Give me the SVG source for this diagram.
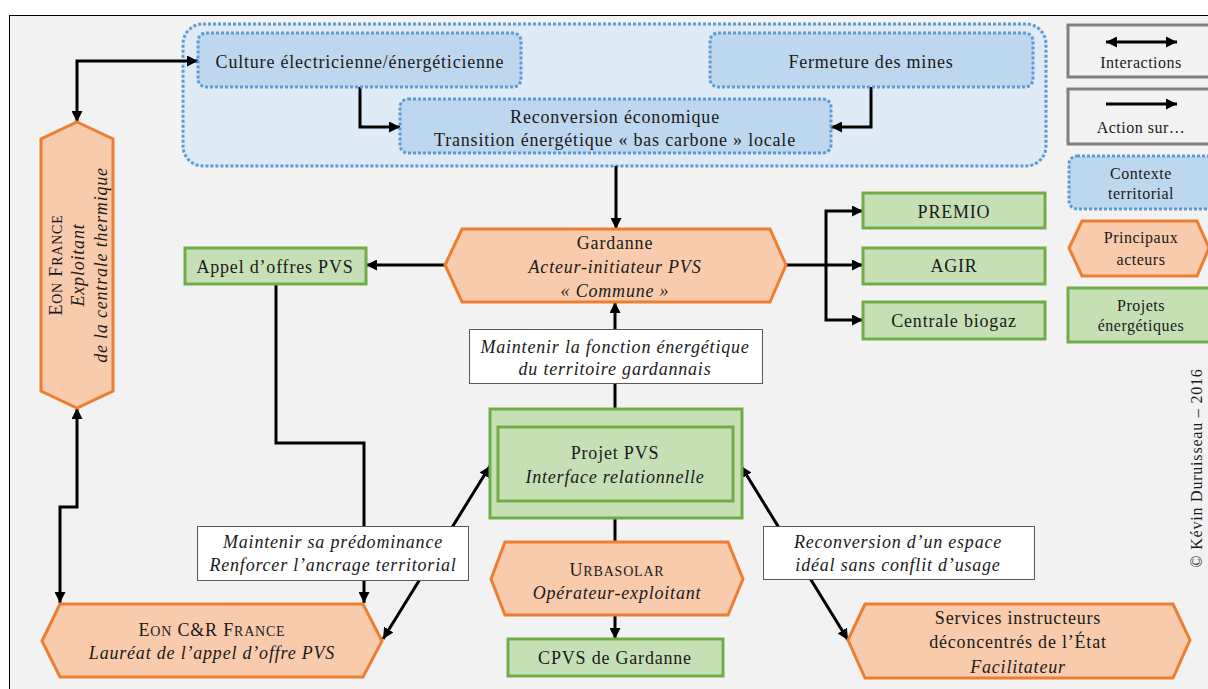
<svg xmlns="http://www.w3.org/2000/svg" width="1208" height="689" viewBox="0 0 1208 689" font-family="Liberation Serif, Tinos, Times New Roman, DejaVu Serif, serif">
<defs>
<style>
text{font-family:'Liberation Serif','Tinos','Times New Roman','DejaVu Serif',serif;font-size:18px;fill:#1a1a1a;text-anchor:middle;letter-spacing:0.8px}
.it{font-style:italic}
.sc{font-size:14px}
.lg{font-size:16px;letter-spacing:0.5px}
.blue{fill:#bdd7ee;stroke:#5b9bd5;stroke-width:3;stroke-dasharray:3 2}
.ctx{fill:#deebf7;stroke:#5b9bd5;stroke-width:3;stroke-dasharray:3 2}
.org{fill:#f8cbad;stroke:#ed7d31;stroke-width:3;stroke-linejoin:miter}
.grn{fill:#c5e0b4;stroke:#70ad47;stroke-width:3}
.lab{fill:#ffffff;stroke:#595959;stroke-width:1}
.leg{fill:#f2f2f2;stroke:#7f7f7f;stroke-width:3}
.c{fill:none;stroke:#000;stroke-width:3}
.a{marker-end:url(#ah)}
.aa{marker-start:url(#ah);marker-end:url(#ah)}
</style>
<marker id="ah" viewBox="0 0 10 10" refX="10" refY="5" markerWidth="11" markerHeight="11" markerUnits="userSpaceOnUse" orient="auto-start-reverse">
<path d="M0,0 L10,5 L0,10 z" fill="#000"/>
</marker>
</defs>
<rect x="0" y="0" width="1208" height="689" fill="#ffffff"/>
<rect x="9.5" y="15.5" width="1300" height="700" fill="#f2f2f2" stroke="#000" stroke-width="1"/>

<g id="contexte">
<rect class="ctx" x="183" y="24" width="863" height="142" rx="20"/>
</g>

<g id="connectors">
<path class="c aa" d="M198,61 H77 V122"/>
<path class="c a" d="M360,87 V127 H400"/>
<path class="c a" d="M871,87 V127 H831"/>
<path class="c a" d="M616,166 V229"/>
<path class="c a" d="M445,265 H366"/>
<path class="c a" d="M786,265 H863"/>
<path class="c a" d="M826,265 V211 H863"/>
<path class="c a" d="M826,265 V320 H863"/>
<path class="c a" d="M615,409 V302"/>
<path class="c aa" d="M77,408 V507 H60 V603"/>
<path class="c a" d="M276,284 V443 H364 V603"/>
<path class="c aa" d="M383,639 L490,466"/>
<path class="c aa" d="M741,466 L848,640"/>
<path class="c" d="M615,518 V542"/>
<path class="c a" d="M615,615 V639"/>
</g>

<g id="culture">
<rect class="blue" x="198" y="33" width="323" height="54" rx="8"/>
<text x="360" y="68">Culture électricienne/énergéticienne</text>
</g>
<g id="fermeture">
<rect class="blue" x="710" y="33" width="323" height="54" rx="8"/>
<text x="871" y="68">Fermeture des mines</text>
</g>
<g id="reconversion">
<rect class="blue" x="400" y="99" width="431" height="54" rx="8"/>
<text x="615" y="123">Reconversion économique</text>
<text x="615" y="146">Transition énergétique « bas carbone » locale</text>
</g>

<g id="eon-france">
<polygon class="org" points="77,122 113,139 113,391 77,408 41,391 41,139"/>
<text transform="rotate(-90 77 265)" x="77" y="250">E<tspan class="sc">ON</tspan> F<tspan class="sc">RANCE</tspan></text>
<text class="it" transform="rotate(-90 77 265)" x="77" y="272">Exploitant</text>
<text class="it" transform="rotate(-90 77 265)" x="77" y="295">de la centrale thermique</text>
</g>

<g id="gardanne">
<polygon class="org" points="445,265 462,229 770,229 786,265 770,302 462,302"/>
<text x="615" y="249">Gardanne</text>
<text class="it" x="615" y="273">Acteur-initiateur PVS</text>
<text class="it" x="615" y="297">« Commune »</text>
</g>

<g id="appel">
<rect class="grn" x="185" y="248" width="181" height="36"/>
<text x="275" y="273">Appel d’offres PVS</text>
</g>

<g id="premio">
<rect class="grn" x="863" y="193" width="182" height="35"/>
<text x="954" y="218">PREMIO</text>
</g>
<g id="agir">
<rect class="grn" x="863" y="248" width="182" height="36"/>
<text x="954" y="272">AGIR</text>
</g>
<g id="biogaz">
<rect class="grn" x="863" y="302" width="182" height="37"/>
<text x="954" y="327">Centrale biogaz</text>
</g>

<g id="label-fonction">
<rect class="lab" x="469.5" y="329.5" width="293" height="54"/>
<text class="it" x="615" y="353">Maintenir la fonction énergétique</text>
<text class="it" x="615" y="375">du territoire gardannais</text>
</g>

<g id="projet-pvs">
<rect class="grn" x="490" y="409" width="252" height="109"/>
<rect class="grn" x="498" y="427" width="235" height="74"/>
<text x="615" y="459">Projet PVS</text>
<text class="it" x="615" y="483">Interface relationnelle</text>
</g>

<g id="urbasolar">
<polygon class="org" points="491,579 505,542 728,542 743,579 728,615 505,615"/>
<text x="617" y="576">U<tspan class="sc">RBASOLAR</tspan></text>
<text class="it" x="617" y="599">Opérateur-exploitant</text>
</g>

<g id="cpvs">
<rect class="grn" x="508" y="639" width="215" height="37"/>
<text x="615" y="664">CPVS de Gardanne</text>
</g>

<g id="label-predominance">
<rect class="lab" x="197.5" y="526.5" width="271" height="54"/>
<text class="it" x="333" y="548">Maintenir sa prédominance</text>
<text class="it" x="333" y="571">Renforcer l’ancrage territorial</text>
</g>

<g id="label-espace">
<rect class="lab" x="763.5" y="526.5" width="271" height="53"/>
<text class="it" x="898" y="548">Reconversion d’un espace</text>
<text class="it" x="898" y="571">idéal sans conflit d’usage</text>
</g>

<g id="eon-cr">
<polygon class="org" points="42,641 60,604 363,604 382,641 363,677 60,677"/>
<text x="212" y="636">E<tspan class="sc">ON</tspan> C&amp;R F<tspan class="sc">RANCE</tspan></text>
<text class="it" x="212" y="659">Lauréat de l’appel d’offre PVS</text>
</g>

<g id="services">
<polygon class="org" points="848,640 865,604 1173,604 1190,640 1173,678 865,678"/>
<text x="1018" y="624">Services instructeurs</text>
<text x="1018" y="648">déconcentrés de l’État</text>
<text class="it" x="1018" y="673">Facilitateur</text>
</g>

<g id="legend-interactions">
<rect class="leg" x="1068" y="25" width="160" height="52"/>
<path class="c aa" d="M1106,42 H1177"/>
<text class="lg" x="1141" y="68">Interactions</text>
</g>
<g id="legend-action">
<rect class="leg" x="1068" y="89" width="160" height="55"/>
<path class="c a" d="M1106,104 H1177"/>
<text class="lg" x="1141" y="133">Action sur…</text>
</g>
<g id="legend-contexte">
<rect class="blue" x="1069" y="156" width="160" height="53" rx="8"/>
<text class="lg" x="1141" y="179">Contexte</text>
<text class="lg" x="1141" y="199">territorial</text>
</g>
<g id="legend-acteurs">
<polygon class="org" points="1069,248 1082,221 1197,221 1209,248 1197,276 1082,276"/>
<text class="lg" x="1141" y="243">Principaux</text>
<text class="lg" x="1141" y="265">acteurs</text>
</g>
<g id="legend-projets">
<rect class="grn" x="1068" y="288" width="160" height="54"/>
<text class="lg" x="1141" y="311">Projets</text>
<text class="lg" x="1141" y="331">énergétiques</text>
</g>

<g id="copyright">
<text transform="rotate(-90 1202 468)" x="1202" y="468" style="font-size:16px">© Kévin Duruisseau – 2016</text>
</g>
</svg>
